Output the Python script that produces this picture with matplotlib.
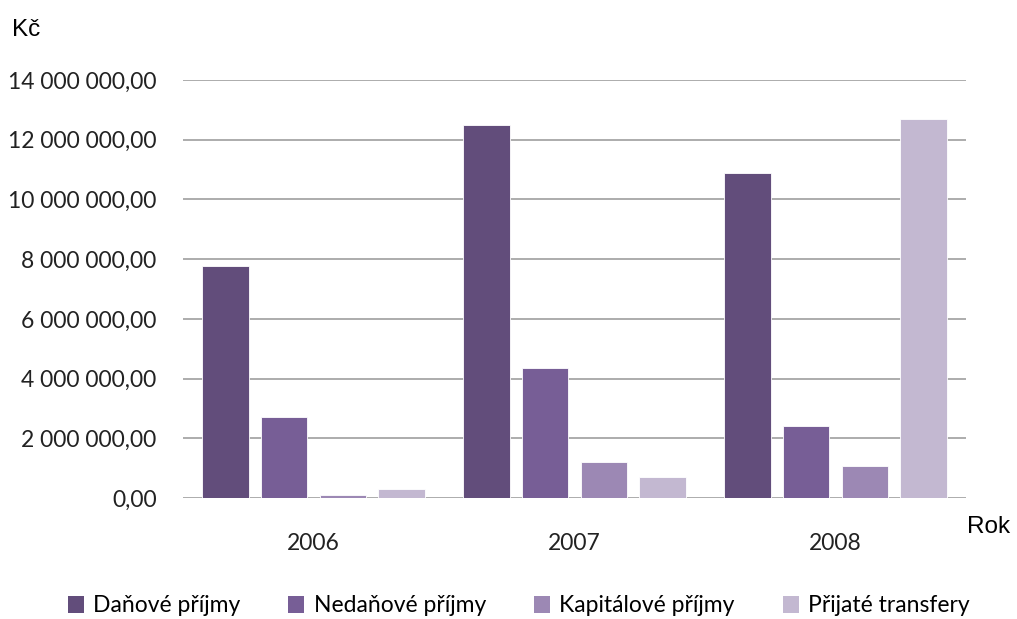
import numpy as np
import matplotlib
matplotlib.use('Agg')
import matplotlib.pyplot as plt
from matplotlib.patches import Patch

years = ["2006", "2007", "2008"]
series_names = ["Daňové příjmy", "Nedaňové příjmy", "Kapitálové příjmy", "Přijaté transfery"]
danove = [7.78e6, 12.48e6, 10.87e6]
nedanove = [2.71e6, 4.34e6, 2.41e6]
kapitalove = [0.10e6, 1.20e6, 1.07e6]
prijate = [0.30e6, 0.70e6, 12.70e6]
yticks = [0, 2e6, 4e6, 6e6, 8e6, 10e6, 12e6, 14e6]
colors = ["#624d7b", "#775e96", "#9c88b4", "#c3b8d1"]


def fmt_czk(v):
    s = f"{v:,.2f}"
    whole, dec = s.split(".")
    return whole.replace(",", " ") + "," + dec


fig = plt.figure(figsize=(10.17, 6.19), dpi=100)
fig.patch.set_facecolor("white")
ax = fig.add_axes([183 / 1017, 121 / 619, 783 / 1017, 418 / 619])

x = np.arange(len(years))
width = 0.18
step = 0.226
data = [danove, nedanove, kapitalove, prijate]
for i, (vals, c) in enumerate(zip(data, colors)):
    ax.bar(x + (i - 1.5) * step, vals, width, color=c, zorder=3,
           edgecolor="white", linewidth=0.6)

ax.set_xlim(-0.5, 2.5)
ax.set_ylim(0, 14e6)
ax.set_yticks(yticks)
ax.set_yticklabels([fmt_czk(v) for v in yticks], fontsize=16.5, family="Lato", color="#222222")
ax.set_xticks(x)
ax.set_xticklabels(years, fontsize=16.5, family="Lato", color="#222222")
ax.tick_params(axis="both", length=0)
ax.tick_params(axis="x", pad=25)
ax.tick_params(axis="y", pad=19)
ax.grid(axis="y", color="#a6a6a6", linewidth=1.3, zorder=0)
for s in ax.spines.values():
    s.set_visible(False)

fig.text(12 / 1017, 1 - 30 / 619, "Kč", fontsize=17.5, family="Liberation Sans", va="center")
fig.text(967 / 1017, 1 - 527 / 619, "Rok", fontsize=17.5, family="Liberation Sans", va="center")

handles = [Patch(facecolor=c, edgecolor="none") for c in colors]
fig.legend(handles, series_names, loc="center", bbox_to_anchor=(0.51, 1 - 606 / 619),
           ncol=4, frameon=False, handlelength=0.7, handleheight=0.7,
           handletextpad=0.4, columnspacing=2.1,
           prop={"family": "Lato", "size": 16.5})

fig.savefig("out.png", dpi=100, facecolor="white")
